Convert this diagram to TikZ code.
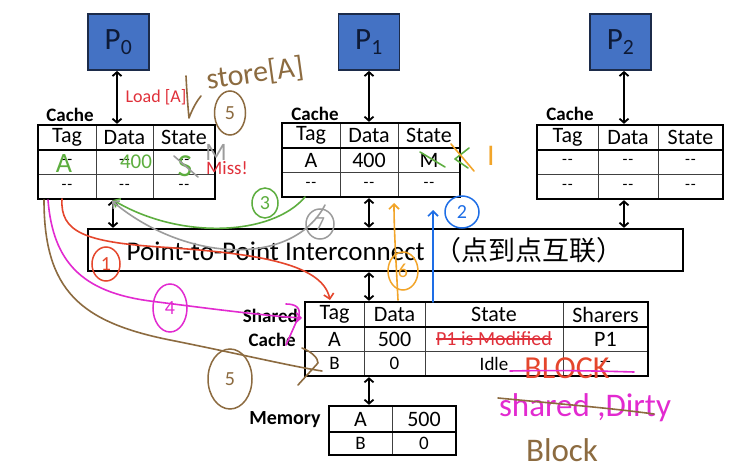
\documentclass[tikz,border=0pt]{standalone}
\usepackage{fontspec}
\setmainfont{Carlito}
\newfontfamily\cjk{Noto Sans CJK SC}
\usetikzlibrary{arrows.meta,fit,shapes.geometric}
\definecolor{pblue}{HTML}{4472C4}
\definecolor{pborder}{HTML}{1C2B4A}
\definecolor{ptext}{HTML}{0E1A36}
\definecolor{typred}{HTML}{E0303A}
\definecolor{hgreen}{HTML}{5DAE3F}
\definecolor{hgray}{HTML}{9C9C9C}
\definecolor{hred}{HTML}{E5462C}
\definecolor{hmag}{HTML}{E22AD0}
\definecolor{hbrown}{HTML}{8C6B40}
\definecolor{horange}{HTML}{F2A52A}
\definecolor{hblue}{HTML}{1E6EE6}
\newcommand\tdash{{\fontsize{16}{16}\selectfont -\kern1pt-}}
\newcommand\cachetbl[9]{%
  \draw[thinl] (#3,#6) -- (#3,#6+74) (#4,#6) -- (#4,#6+74) (#2,#6+49) -- (#5,#6+49);
  \draw[midl] (#2,#6+25) -- (#5,#6+25);
  \node[tbl, fit={(#2,#6) (#5,#6+74)}] (#1) {};
  \node[cell] (#1-h1) at ({(#2+#3)/2},#6+12.5) {Tag};
  \node[cell] (#1-h2) at ({(#3+#4)/2},#6+12.5) {Data};
  \node[cell] (#1-h3) at ({(#4+#5)/2},#6+12.5) {State};
  \node[cell] (#1-a1) at ({(#2+#3)/2},#6+37) {#7};
  \node[cell] (#1-a2) at ({(#3+#4)/2},#6+37) {#8};
  \node[cell] (#1-a3) at ({(#4+#5)/2},#6+37) {#9};
  \node[cell] (#1-b1) at ({(#2+#3)/2},#6+61.5) {\tdash};
  \node[cell] (#1-b2) at ({(#3+#4)/2},#6+61.5) {\tdash};
  \node[cell] (#1-b3) at ({(#4+#5)/2},#6+61.5) {\tdash};
}
\begin{document}
\begin{tikzpicture}[x=1pt,y=-1pt,
  pbox/.style={draw=pborder, fill=pblue, line width=1.8pt, minimum width=61pt, minimum height=56pt, inner sep=0pt, text=ptext, font=\fontsize{31}{32}\selectfont},
  tbl/.style={draw, line width=2.3pt, inner sep=0pt},
  thinl/.style={line width=0.9pt, draw=black!75},
  midl/.style={line width=1.4pt},
  cell/.style={inner sep=0pt, font=\fontsize{22}{23}\selectfont},
  smallcell/.style={inner sep=0pt, font=\fontsize{19}{20}\selectfont},
  lbl/.style={inner sep=0pt, font=\bfseries\fontsize{19}{20}\selectfont},
  biarrow/.style={line width=1.8pt, {Straight Barb[length=4pt,width=9pt]}-{Straight Barb[length=4pt,width=9pt]}},
  hand/.style={line width=1.6pt, line cap=round, line join=round},
  htip/.style={-{Straight Barb[length=5pt,width=10pt]}},
  hnum/.style={draw, ellipse, line width=1.5pt, inner sep=0pt, font=\fontsize{20}{20}\selectfont},
  htext/.style={inner sep=0pt},
  typed/.style={inner sep=0pt, text=typred}
]
\useasboundingbox (0,0) rectangle (750,474);
\fill[white] (0,0) rectangle (750,474);

% processors
\node[pbox] (p0) at (118.5,42) {P\textsubscript{0}};
\node[pbox] (p1) at (369,42) {P\textsubscript{1}};
\node[pbox] (p2) at (620.5,42) {P\textsubscript{2}};

% caches
\node[lbl] (l0) at (70,115) {Cache};
\node[lbl] (l1) at (315,114) {Cache};
\node[lbl] (l2) at (570,114) {Cache};
\cachetbl{c0}{38}{96}{153}{215}{125}{\tdash}{\tdash}{\tdash}
\cachetbl{c1}{282}{340}{398}{460}{123}{A}{400}{M}
\cachetbl{c2}{537}{598}{658}{723}{125}{\tdash}{\tdash}{\tdash}

% interconnect
\node[tbl, fit={(88,229) (683,271)}] (ic) {};
\node[inner sep=0pt, font=\fontsize{27}{28}\selectfont] (ict) at (375,250) {Point-to-Point Interconnect\hspace{0.35em}{\cjk （点到点互联）}};

% shared cache
\draw[thinl] (364,302) -- (364,376) (425,302) -- (425,376) (563,302) -- (563,376) (305,351) -- (648,351);
\draw[midl] (305,327) -- (648,327);
\node[tbl, fit={(305,302) (648,376)}] (sc) {};
\node[lbl, anchor=east] (ls1) at (298,316) {Shared};
\node[lbl, anchor=east] (ls2) at (296,340) {Cache};
\node[cell] (sc-h1) at (334.5,314.5) {Tag};
\node[cell] (sc-h2) at (394.5,314.5) {Data};
\node[cell] (sc-h3) at (494,314.5) {State};
\node[cell] (sc-h4) at (605.5,314.5) {Sharers};
\node[cell] (sc-a1) at (334.5,339) {A};
\node[cell] (sc-a2) at (394.5,339) {500};
\node[typed, font=\fontsize{20}{21}\selectfont] (sc-a3) at (494,339) {P1 is Modified};
\node[cell] (sc-a4) at (605.5,339) {P1};
\node[smallcell] (sc-b1) at (334.5,363.5) {B};
\node[smallcell] (sc-b2) at (394.5,363.5) {0};
\node[smallcell] (sc-b3) at (494,363.5) {Idle};
\node[cell] (sc-b4) at (605.5,363.5) {\tdash};
\draw[line width=1.3pt, typred] (sc-a3.west) -- (sc-a3.east);

% memory
\draw[thinl] (392,406) -- (392,455);
\draw[midl] (329,432) -- (456,432);
\node[tbl, fit={(329,406) (456,455)}] (mem) {};
\node[lbl, font=\bfseries\fontsize{20}{21}\selectfont] (lm) at (285,420) {Memory};
\node[cell] (m-a1) at (360.5,419) {A};
\node[cell] (m-a2) at (424,419) {500};
\node[smallcell] (m-b1) at (360.5,443.5) {B};
\node[smallcell] (m-b2) at (424,443.5) {0};

% black connectors
\coordinate (x0) at (117,0);
\coordinate (x0b) at (113,0);
\coordinate (x1) at (369,0);
\coordinate (x2) at (624,0);
\draw[biarrow] (p0.south -| x0) -- (c0.north -| x0);
\draw[biarrow] (p1.south -| x1) -- (c1.north -| x1);
\draw[biarrow] (p2.south -| x2) -- (c2.north -| x2);
\draw[biarrow] (c0.south -| x0b) -- (ic.north -| x0b);
\draw[biarrow] (c1.south -| x1) -- (ic.north -| x1);
\draw[biarrow] (c2.south -| x2) -- (ic.north -| x2);
\draw[biarrow] (ic.south -| x1) -- (sc.north -| x1);
\draw[biarrow] (sc.south -| x1) -- (mem.north -| x1);

% typed red notes
\node[typed, font=\fontsize{18}{19}\selectfont] (load) at (156,97) {Load [A]};
\node[typed, font=\fontsize{19}{20}\selectfont] (miss) at (227,168) {Miss!};

% ---- handwritten annotations ----
% P0 cache overwrite
\node[htext, text=hgreen, font=\fontsize{28}{28}\selectfont] (gA) at (64,164) {A};
\node[htext, text=hgreen, font=\fontsize{21}{21}\selectfont] (g400) at (136,162) {400};
\node[htext, text=hgreen, font=\fontsize{32}{32}\selectfont] (gS) at (185,166) {S};
\draw[hand, hgray] (174,156) -- (198,177);
\node[htext, text=hgray, font=\fontsize{25}{25}\selectfont] (gM) at (216,152) {M};

% store[A] (5)
\node[htext, text=hbrown, font=\fontsize{30}{30}\selectfont, rotate=8] (st) at (255,74) {store[A]};
\draw[hand, hbrown] (186,76) .. controls (187,95) and (188,108) .. (189,118) .. controls (192,110) and (196,102) .. (201,96);
\node[hnum, hbrown, minimum width=31pt, minimum height=44pt] (n5a) at (230,113) {5};

% P1 cache state change
\draw[hand, hgreen] (420,152) -- (445,167);
\draw[hand, hgreen] (469,148) -- (455,159) -- (468,168);
\draw[hand, horange] (451,144) -- (474,171);
\node[htext, text=horange, font=\fontsize{30}{30}\selectfont] (oI) at (491,156) {I};

% (1) red
\draw[hand, hred, htip] (62,199) .. controls (60,232) and (85,242) .. (160,247) .. controls (250,253) and (322,262) .. (330,300);
\node[hnum, hred, minimum width=28pt, minimum height=34pt] (n1) at (106,264) {1};

% (2) blue
\draw[hand, hblue, htip] (433,302) -- (433,210);
\node[hnum, hblue, minimum width=34pt, minimum height=32pt] (n2) at (462,212) {2};

% (3) green
\draw[hand, hgreen, htip] (305,197) .. controls (272,236) and (180,240) .. (113,200);
\node[hnum, hgreen, minimum width=26pt, minimum height=30pt] (n3) at (265,203) {3};

% gray
\draw[hand, hgray, htip] (325,205) .. controls (292,268) and (185,262) .. (112,201);
\node[hnum, hgray, minimum width=28pt, minimum height=30pt] (n7) at (320,224) {7};

% (4) magenta
\draw[hand, hmag, htip] (48,200) .. controls (53,262) and (82,292) .. (150,301) .. controls (220,310) and (268,316) .. (302,318);
\draw[hand, hmag] (286,304) .. controls (296,304) and (302,308) .. (298,318) -- (286,345);
\node[hnum, hmag, minimum width=34pt, minimum height=48pt] (n4) at (170,308) {4};

% (5) brown
\draw[hand, hbrown] (44,200) .. controls (44,290) and (80,322) .. (170,340) .. controls (240,354) and (290,366) .. (322,371);
\draw[hand, hbrown] (302,348) .. controls (312,352) and (318,358) .. (318,363) -- (298,385);
\node[hnum, hbrown, minimum width=44pt, minimum height=60pt] (n5b) at (230,379) {5};

% (6) orange
\draw[hand, horange, htip] (398,300) .. controls (396,260) and (394,230) .. (394,203);
\node[hnum, horange, minimum width=30pt, minimum height=38pt] (n6) at (403,271) {6};

% shared cache state notes
\node[htext, text=hred, font=\fontsize{32}{32}\selectfont] (blk1) at (567,368) {BLOCK};
\draw[hand, hmag] (510,371) .. controls (560,370) and (600,371) .. (634,372);
\node[htext, text=hmag, font=\fontsize{33}{33}\selectfont] (shd) at (585,408) {shared ,Dirty};
\draw[hand, hbrown] (498,398) .. controls (560,404) and (610,408) .. (654,414);
\node[htext, text=hbrown, font=\fontsize{33}{33}\selectfont] (blk2) at (562,450) {Block};
\end{tikzpicture}
\end{document}
